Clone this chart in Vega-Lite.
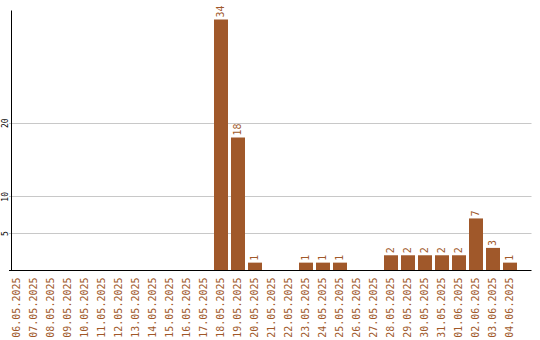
{
  "$schema": "https://vega.github.io/schema/vega-lite/v6.json",
  "width": 520,
  "height": 260,
  "autosize": "none",
  "padding": {"left": 11, "top": 10, "right": 9, "bottom": 70},
  "background": "white",
  "config": {"view": {"stroke": null}},
  "data": {"values": [
    {"d": "06.05.2025", "v": 0}, {"d": "07.05.2025", "v": 0}, {"d": "08.05.2025", "v": 0},
    {"d": "09.05.2025", "v": 0}, {"d": "10.05.2025", "v": 0}, {"d": "11.05.2025", "v": 0},
    {"d": "12.05.2025", "v": 0}, {"d": "13.05.2025", "v": 0}, {"d": "14.05.2025", "v": 0},
    {"d": "15.05.2025", "v": 0}, {"d": "16.05.2025", "v": 0}, {"d": "17.05.2025", "v": 0},
    {"d": "18.05.2025", "v": 34}, {"d": "19.05.2025", "v": 18}, {"d": "20.05.2025", "v": 1},
    {"d": "21.05.2025", "v": 0}, {"d": "22.05.2025", "v": 0}, {"d": "23.05.2025", "v": 1},
    {"d": "24.05.2025", "v": 1}, {"d": "25.05.2025", "v": 1}, {"d": "26.05.2025", "v": 0},
    {"d": "27.05.2025", "v": 0}, {"d": "28.05.2025", "v": 2}, {"d": "29.05.2025", "v": 2},
    {"d": "30.05.2025", "v": 2}, {"d": "31.05.2025", "v": 2}, {"d": "01.06.2025", "v": 2},
    {"d": "02.06.2025", "v": 7}, {"d": "03.06.2025", "v": 3}, {"d": "04.06.2025", "v": 1}
  ]},
  "encoding": {
    "x": {
      "field": "d", "type": "ordinal", "sort": null,
      "scale": {"range": [-2.5, 520], "paddingInner": 0.1765, "paddingOuter": 0.456, "align": 0.0968},
      "axis": {
        "title": null, "labelAngle": -90, "ticks": false, "labelPadding": 7,
        "labelFont": "DejaVu Sans Mono", "labelFontSize": 10, "labelColor": "#a0582a",
        "domainColor": "#000000", "domainWidth": 1, "grid": false
      }
    },
    "y": {
      "field": "v", "type": "quantitative",
      "scale": {"domain": [0, 35.3], "nice": false},
      "axis": {
        "title": null, "values": [5, 10, 20], "labelAngle": -90, "ticks": false,
        "labelPadding": 2, "labelFont": "DejaVu Sans Mono", "labelFontSize": 8,
        "labelColor": "#000000", "domainColor": "#000000",
        "grid": true, "gridColor": "#c8c8c8", "gridWidth": 1
      }
    }
  },
  "layer": [
    {"mark": {"type": "bar", "color": "#a0582a"}},
    {
      "transform": [{"filter": "datum.v > 0"}],
      "mark": {"type": "text", "angle": -90, "align": "left", "baseline": "middle", "dx": 2,
               "font": "DejaVu Sans Mono", "fontSize": 10, "color": "#a0582a"},
      "encoding": {"text": {"field": "v", "type": "quantitative"}}
    }
  ]
}
